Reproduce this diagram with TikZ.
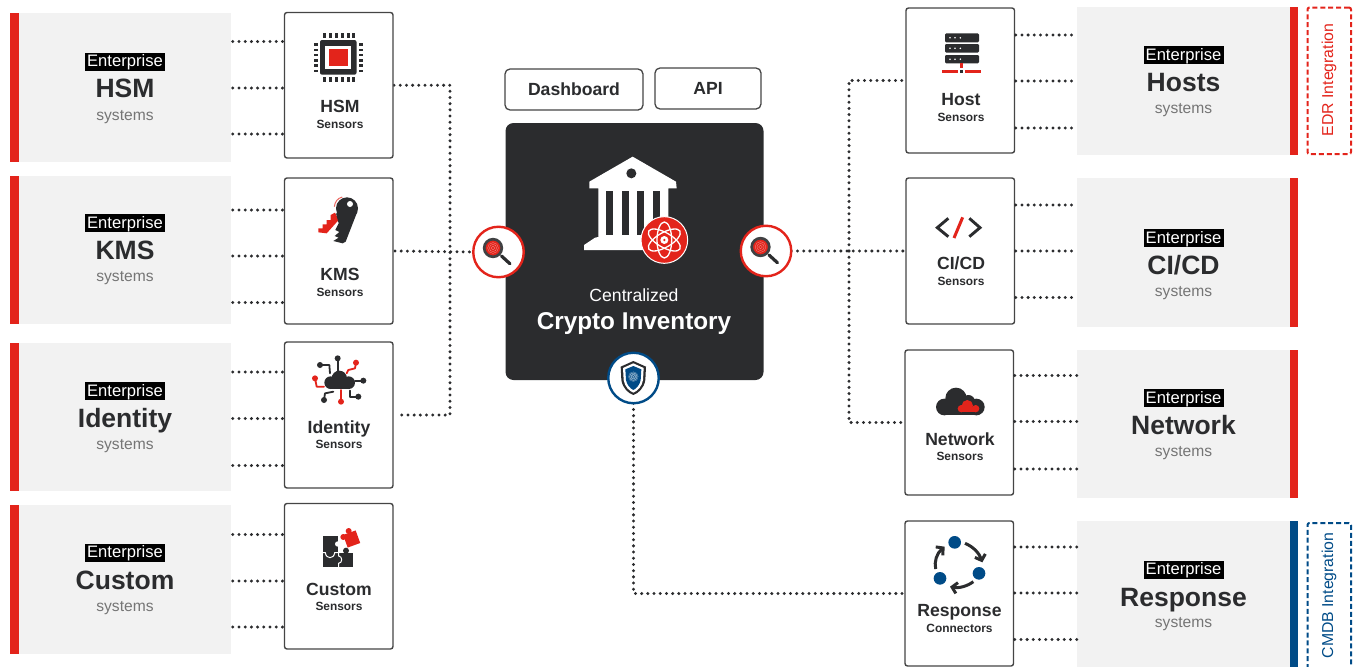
\documentclass[tikz,border=0pt]{standalone}
\usepackage{fontspec}
\setmainfont{Liberation Sans}
\usetikzlibrary{backgrounds,arrows.meta,calc,decorations.markings}
\definecolor{cred}{HTML}{E3241B}
\definecolor{cdark}{HTML}{2B2C2E}
\definecolor{cgray}{HTML}{F2F2F2}
\definecolor{cblue}{HTML}{004B87}
\definecolor{cedge}{HTML}{454545}
\definecolor{csys}{HTML}{757575}
\tikzset{
  rectbase/.style={inner sep=0pt,outer sep=0pt},
  sysbox/.style={rectbase,fill=cgray},
  redbar/.style={rectbase,fill=cred},
  bluebar/.style={rectbase,fill=cblue},
  sensorbox/.style={rectbase,draw=cedge,fill=white,line width=1.4pt,rounded corners=2.5pt},
  topbox/.style={rectbase,draw=cedge,fill=white,line width=1.3pt,rounded corners=5pt,text=cdark,
    font=\fontsize{17.6}{18}\selectfont\bfseries},
  corebox/.style={rectbase,fill=cdark,rounded corners=8pt},
  dashbox/.style={rectbase,line width=2pt,rounded corners=2pt,dash pattern=on 5pt off 2.9pt},
  enttag/.style={inner sep=0pt,fill=black,text=white,minimum width=80pt,minimum height=18pt,
    text height=13pt,text depth=3pt,font=\fontsize{16.6}{17}\selectfont},
  systitle/.style={inner sep=0pt,text=cdark,text height=19pt,text depth=0pt,font=\fontsize{26.5}{27}\selectfont\bfseries},
  syssub/.style={inner sep=0pt,text=csys,text height=12.5pt,text depth=1pt,font=\fontsize{15.6}{16}\selectfont},
  boxtitle/.style={inner sep=0pt,text=cdark,text height=13pt,text depth=0pt,font=\fontsize{17.6}{18}\selectfont\bfseries},
  boxsub/.style={inner sep=0pt,text=cdark,text height=8.6pt,text depth=0pt,font=\fontsize{11.9}{12}\selectfont\bfseries},
  dotline/.style={decoration={markings,mark=between positions 0 and 1 step 6.2pt with {\fill[cdark] (0,0) circle (1.65pt);}},postaction={decorate}},
  badge/.style={circle,inner sep=0pt,outer sep=0pt,fill=white,line width=2.4pt,minimum size=50.5pt},
  iconline/.style={line width=1.8pt,line cap=round,line join=round},
}
\newcommand{\rectnode}[7]{%
  \pgfmathsetmacro{\rw}{#5-#3}\pgfmathsetmacro{\rh}{#6-#4}%
  \pgfmathsetmacro{\rx}{(#5+#3)/2}\pgfmathsetmacro{\ry}{(#6+#4)/2}%
  \node[#1,minimum width=\rw pt,minimum height=\rh pt] (#2) at (\rx,\ry) {#7};}
\newcommand{\syslabels}[6]{%
  \node[enttag] (#1tag) at (#2,#3) {Enterprise};
  \node[systitle] (#1title) at (#2,#4) {#6};
  \node[syssub] (#1sub) at (#2,#5) {systems};}
\newcommand{\boxlabels}[6]{%
  \node[boxtitle] (#1title) at (#2,#3) {#5};
  \node[boxsub] (#1sub) at (#2,#4) {#6};}
\newcommand{\leftstubs}[5]{%
  \foreach \yy in {#3,#4,#5} \path[dotline] ([xshift=1.8pt]#1.east |- 0,\yy) -- ([xshift=-2pt]#2.west |- 0,\yy);}
\newcommand{\rightstubs}[5]{%
  \foreach \yy in {#3,#4,#5} \path[dotline] ([xshift=1.2pt]#1.east |- 0,\yy) -- (#2.west |- 0,\yy);}
\newcommand{\printmark}[4]{%
  \foreach \rr in {0.3,0.6,0.9} \draw[#4,line width=.35pt] (#1,#2) circle ({#3*\rr});}
\newcommand{\magicon}[3]{%
  \node[badge,draw=cred] (#1) at (#2,#3) {};
  \begin{scope}[shift={(#2,#3)}]
    \draw[cdark,line width=3.2pt,line cap=round] (3,4) -- (11.5,11.8);
    \fill[cred] (-5.5,-4) circle (8.5);
    \draw[cdark!90,line width=2.7pt] (-5.5,-4) circle (8.8);
    \printmark{-5.5}{-4}{6}{white!45!cred}
  \end{scope}}
\begin{document}
\begin{tikzpicture}[x=1pt,y=-1pt]
\useasboundingbox (0,0) rectangle (1353,667);
\clip (0,0) rectangle (1353,667);

% left systems
\rectnode{sysbox}{hsmsys}{19}{13}{231}{162}{}
\rectnode{sysbox}{kmssys}{19}{176}{231}{324}{}
\rectnode{sysbox}{idsys}{19}{343}{231}{491}{}
\rectnode{sysbox}{cussys}{19}{504.5}{231}{654}{}
\rectnode{redbar}{hsmbar}{10}{13}{19}{162}{}
\rectnode{redbar}{kmsbar}{10}{176}{19}{324}{}
\rectnode{redbar}{idbar}{10}{343}{19}{491}{}
\rectnode{redbar}{cusbar}{10}{504.5}{19}{654}{}
\syslabels{hsms}{125}{61.5}{88}{114.5}{HSM}
\syslabels{kmss}{125}{223}{250}{276}{KMS}
\syslabels{ids}{125}{391}{418}{444}{Identity}
\syslabels{cuss}{125}{552.5}{580}{605.5}{Custom}

% left sensor boxes
\rectnode{sensorbox}{hsmbox}{284.5}{12.5}{393}{158}{}
\rectnode{sensorbox}{kmsbox}{284.5}{178}{393}{324}{}
\rectnode{sensorbox}{idbox}{284.5}{342}{393}{488}{}
\rectnode{sensorbox}{cusbox}{284.5}{503.5}{393}{649}{}
\boxlabels{hsml}{340}{106}{124}{HSM}{Sensors}
\boxlabels{kmsl}{340}{274}{292}{KMS}{Sensors}
\boxlabels{idl}{339}{427}{444.5}{Identity}{Sensors}
\boxlabels{cusl}{339}{589}{606}{Custom}{Sensors}
\leftstubs{hsmsys}{hsmbox}{41.5}{88}{134}
\leftstubs{kmssys}{kmsbox}{210}{256}{302.5}
\leftstubs{idsys}{idbox}{372}{418.5}{465.5}
\leftstubs{cussys}{cusbox}{534.5}{581}{627}

% top and centre
\rectnode{topbox}{dash}{505}{69}{643}{110}{Dashboard}
\rectnode{topbox}{api}{655}{68}{761}{109}{API}
\rectnode{corebox}{core}{505.5}{123}{763.5}{380}{}
\node[inner sep=0pt,text=white,text height=13pt,text depth=0pt,font=\fontsize{17.6}{18}\selectfont] (corea) at (634,295) {Centralized};
\node[inner sep=0pt,text=white,text height=17.5pt,text depth=1pt,font=\fontsize{24.3}{25}\selectfont\bfseries] (coreb) at (634,321) {Crypto Inventory};

% bank icon
\begin{scope}[shift={(570,145)},scale=1/3]
  \fill[white] (58,110) -- (188,35) -- (318,110) -- (320,130) -- (295,130) -- (295,276) -- (300,278) -- (300,315) -- (42,315) -- (42,300) -- (75,278) -- (85,276) -- (85,130) -- (58,130) -- cycle;
  \foreach \sx in {108,155,200,248} \fill[cdark] (\sx,138) rectangle +(22,132);
  \fill[cdark] (184,85) circle (15);
  \fill[cred,draw=white,line width=1pt] (283,285) circle (70);
  \begin{scope}[shift={(283,285)}]
    \foreach \ang in {30,90,150} \draw[white,line width=1.3pt,rotate=\ang] (0,0) ellipse (54 and 22);
    \fill[white] (0,0) circle (12);
    \fill[cred] (0,0) circle (4);
  \end{scope}
\end{scope}

% right sensor boxes
\rectnode{sensorbox}{hostbox}{906}{8}{1014.5}{153}{}
\rectnode{sensorbox}{cicdbox}{906}{178}{1014.5}{324}{}
\rectnode{sensorbox}{netbox}{905}{350}{1013.5}{495}{}
\rectnode{sensorbox}{respbox}{905}{521}{1013.5}{666}{}
\boxlabels{hostl}{961}{99}{117}{Host}{Sensors}
\boxlabels{cicdl}{961}{263}{281}{CI/CD}{Sensors}
\boxlabels{netl}{960}{438.5}{456.5}{Network}{Sensors}
\boxlabels{respl}{959.5}{610}{628}{Response}{Connectors}

% right systems
\rectnode{sysbox}{hostsys}{1077}{7}{1290}{155}{}
\rectnode{sysbox}{cicdsys}{1077}{178}{1290}{327}{}
\rectnode{sysbox}{netsys}{1077}{350}{1290}{498}{}
\rectnode{sysbox}{respsys}{1077}{521}{1290}{670}{}
\rectnode{redbar}{hostbar}{1290}{7}{1298}{155}{}
\rectnode{redbar}{cicdbar}{1290}{178}{1298}{327}{}
\rectnode{redbar}{netbar}{1290}{350}{1298}{498}{}
\rectnode{bluebar}{respbar}{1290}{521}{1298}{670}{}
\syslabels{hosts}{1183.5}{55}{82}{108}{Hosts}
\syslabels{cicds}{1183.5}{238}{265}{291}{CI/CD}
\syslabels{nets}{1183.5}{398}{425}{451}{Network}
\syslabels{resps}{1183.5}{569.5}{596.5}{622}{Response}
\rightstubs{hostbox}{hostsys}{35}{81}{128}
\rightstubs{cicdbox}{cicdsys}{205}{251}{297.5}
\rightstubs{netbox}{netsys}{375.5}{421.5}{469}
\rightstubs{respbox}{respsys}{547}{593}{639.5}

% integration frames
\rectnode{dashbox,draw=cred}{edr}{1307.5}{7.5}{1351}{154}{}
\rectnode{dashbox,draw=cblue}{cmdb}{1307.5}{523}{1351}{675}{}
\node[rotate=90,inner sep=0pt,text=cred,font=\fontsize{15.8}{16}\selectfont] (edrt) at (1329,80) {EDR Integration};
\node[rotate=90,inner sep=0pt,text=cblue,font=\fontsize{15.8}{16}\selectfont] (cmdbt) at (1329,595.5) {CMDB Integration};

% badges
\magicon{lmag}{498.5}{252}
\magicon{rmag}{766}{251}
\node[badge,draw=cblue] (shield) at (633.5,378) {};
\begin{scope}[shift={(600,345)},scale=1/3]
  \fill[cdark] (100,48) -- (62,65) -- (64,105) .. controls (68,130) and (85,145) .. (100,150) .. controls (115,145) and (132,130) .. (136,105) -- (138,65) -- cycle;
  \fill[white] (100,55) -- (69,69) -- (71,105) .. controls (74,125) and (88,138) .. (100,143) .. controls (112,138) and (126,125) .. (129,105) -- (131,69) -- cycle;
  \fill[cblue] (100,63) -- (76,73) -- (78,105) .. controls (81,120) and (90,130) .. (100,135) .. controls (110,130) and (119,120) .. (122,105) -- (124,73) -- cycle;
  \fill[white!55!cblue] (100,95) circle (15);
  \printmark{100}{95}{15}{cblue}
\end{scope}

% bus connectors
\coordinate (lbus) at (450,415);
\coordinate (rjoin) at (849,251);
\begin{pgfonlayer}{background}
  \path[dotline] ([xshift=1pt]hsmbox.east) -| (lbus) -- ([xshift=5pt]idbox.east);
  \path[dotline] ([xshift=2pt]kmsbox.east) -- (lmag.west);
  \path[dotline] (rmag.east) -- ([xshift=-1pt]cicdbox.west);
  \path[dotline] (rjoin) |- ([xshift=-1pt]hostbox.west);
  \path[dotline] (rjoin) |- ([xshift=-1pt]netbox.west);
  \path[dotline] (shield.south) |- ([xshift=-1pt]respbox.west);
\end{pgfonlayer}

% HSM chip icon
\fill[cdark,rounded corners=2pt] (320,40) rectangle (356.5,74.7);
\fill[white] (325,46) rectangle (350.5,68.5);
\fill[cred] (329,48.5) rectangle (347.5,65.5);
\foreach \k in {0,...,5} {
  \fill[cdark] ({323.3+5.8*\k},32.5) rectangle +(3,5);
  \fill[cdark] ({323.3+5.8*\k},77) rectangle +(3,5);
  \fill[cdark] (313.5,{43.2+5.3*\k}) rectangle +(4.5,2.4);
  \fill[cdark] (358.5,{43.2+5.3*\k}) rectangle +(4.5,2.4);
}

% KMS key icon
\begin{scope}[shift={(300,190)},scale=1/3]
  \draw[cred!70,line width=1pt] (103,50) .. controls (105,35) and (112,25) .. (127,21);
  \fill[cred] (55,115) -- (68,115) -- (68,103) -- (80,103) -- (80,90) -- (92,90) -- (92,75) -- (105,68) -- (116,90) -- (80,130) -- (55,127) -- cycle;
  \fill[cdark] (108,70) -- (116,100) -- (106,120) -- (118,126) -- (104,138) -- (116,143) -- (100,153) -- (128,160) -- (137,155) -- (172,65) -- cycle;
  \fill[cdark] (141,55) circle (33);
  \fill[white] (150,42) circle (9);
\end{scope}

% Identity icon
\begin{scope}[shift={(300,350)},scale=1/3]
  \fill[cdark] (118,85) circle (23);
  \fill[cdark] (92,98) circle (19);
  \fill[cdark] (146,98) circle (19);
  \fill[cdark] (92,98) rectangle (146,117);
  \draw[iconline,cdark] (113,25) -- (113,65);
  \draw[iconline,cdark] (60,45) -- (88,45) -- (90,70);
  \draw[iconline,cred] (168,38) -- (165,55) -- (145,60) -- (140,70);
  \draw[iconline,cdark] (190,92) -- (165,92);
  \draw[iconline,cred] (45,85) -- (50,110) -- (72,110);
  \draw[iconline,cdark] (72,150) -- (75,130) -- (100,125);
  \draw[iconline,cred] (123,155) -- (123,120);
  \draw[iconline,cdark] (175,140) -- (150,140) -- (150,122);
  \foreach \px/\py in {113/25,60/45,190/92,72/150,175/140} \fill[cdark] (\px,\py) circle (9);
  \foreach \px/\py in {168/38,45/85,123/155} \fill[cred] (\px,\py) circle (9);
\end{scope}

% Custom puzzle icon
\begin{scope}[shift={(300,520)},scale=1/3]
  \fill[cdark] (68,48) rectangle (113,100);
  \fill[cdark] (68,100) rectangle (160,142);
  \fill[cdark] (138,92) circle (9);
  \fill[white] (113,72) circle (8);
  \draw[white,line width=1pt] (68,98) -- (76,98) .. controls (78,118) and (102,118) .. (104,98) -- (116,98) -- (116,108) .. controls (128,108) and (128,130) .. (116,130) -- (116,142);
  \fill[cred,rotate around={20:(155,57)}] (135,37) rectangle (175,77);
  \fill[cred] (146,33) circle (9);
  \fill[cred] (130,51) circle (9);
  \fill[white] (160,84) circle (5);
\end{scope}

% Host icon
\begin{scope}[shift={(890,0)},scale=1/3]
  \foreach \ya/\yb in {100/127,132/158,165/190} {
    \fill[cdark,rounded corners=1.2pt] (165,\ya) rectangle (267,\yb);
    \foreach \dx in {180,195,211} \fill[white] (\dx,{(\ya+\yb)/2}) circle (2.6);
  }
  \fill[cred] (209,190) rectangle (219,203);
  \fill[cdark] (209,209) rectangle (219,219);
  \fill[cred] (157,209) rectangle (205,219);
  \fill[cred] (226,209) rectangle (272,219);
\end{scope}

% CI/CD icon
\begin{scope}[shift={(890,0)},scale=1/3]
  \draw[cdark,line width=2.9pt,line join=miter] (175,655) -- (142,683) -- (175,710);
  \draw[cdark,line width=2.9pt,line join=miter] (238,655) -- (270,683) -- (238,710);
  \draw[cred,line width=3pt] (218,652) -- (192,714);
\end{scope}

% Network icon
\begin{scope}[shift={(890,340)},scale=1/3]
  \fill[cdark] (198,175) circle (32);
  \fill[cdark] (163,201) circle (25);
  \fill[cdark] (259,201) circle (25);
  \fill[cdark] (235,185) circle (20);
  \fill[cdark] (163,190) rectangle (259,226);
  \fill[cred] (232,197) circle (17);
  \fill[cred] (214,206) circle (11);
  \fill[cred] (257,206) circle (11);
  \fill[cred] (214,200) rectangle (257,217);
\end{scope}

% Response icon
\begin{scope}[shift={(920,525)},scale=1/3]
  \fill[cblue] (104,52) circle (19);
  \fill[cblue] (177,145) circle (19);
  \fill[cblue] (60,160) circle (19);
  \draw[cdark,line width=3pt,-{Straight Barb[length=5pt,width=11pt]}] (135,55) .. controls (160,65) and (178,85) .. (187,112);
  \draw[cdark,line width=3pt,-{Straight Barb[length=5pt,width=11pt]}] (160,170) .. controls (140,185) and (115,190) .. (90,185);
  \draw[cdark,line width=3pt,-{Straight Barb[length=5pt,width=11pt]}] (47,132) .. controls (42,110) and (50,85) .. (74,65);
\end{scope}
\end{tikzpicture}
\end{document}
